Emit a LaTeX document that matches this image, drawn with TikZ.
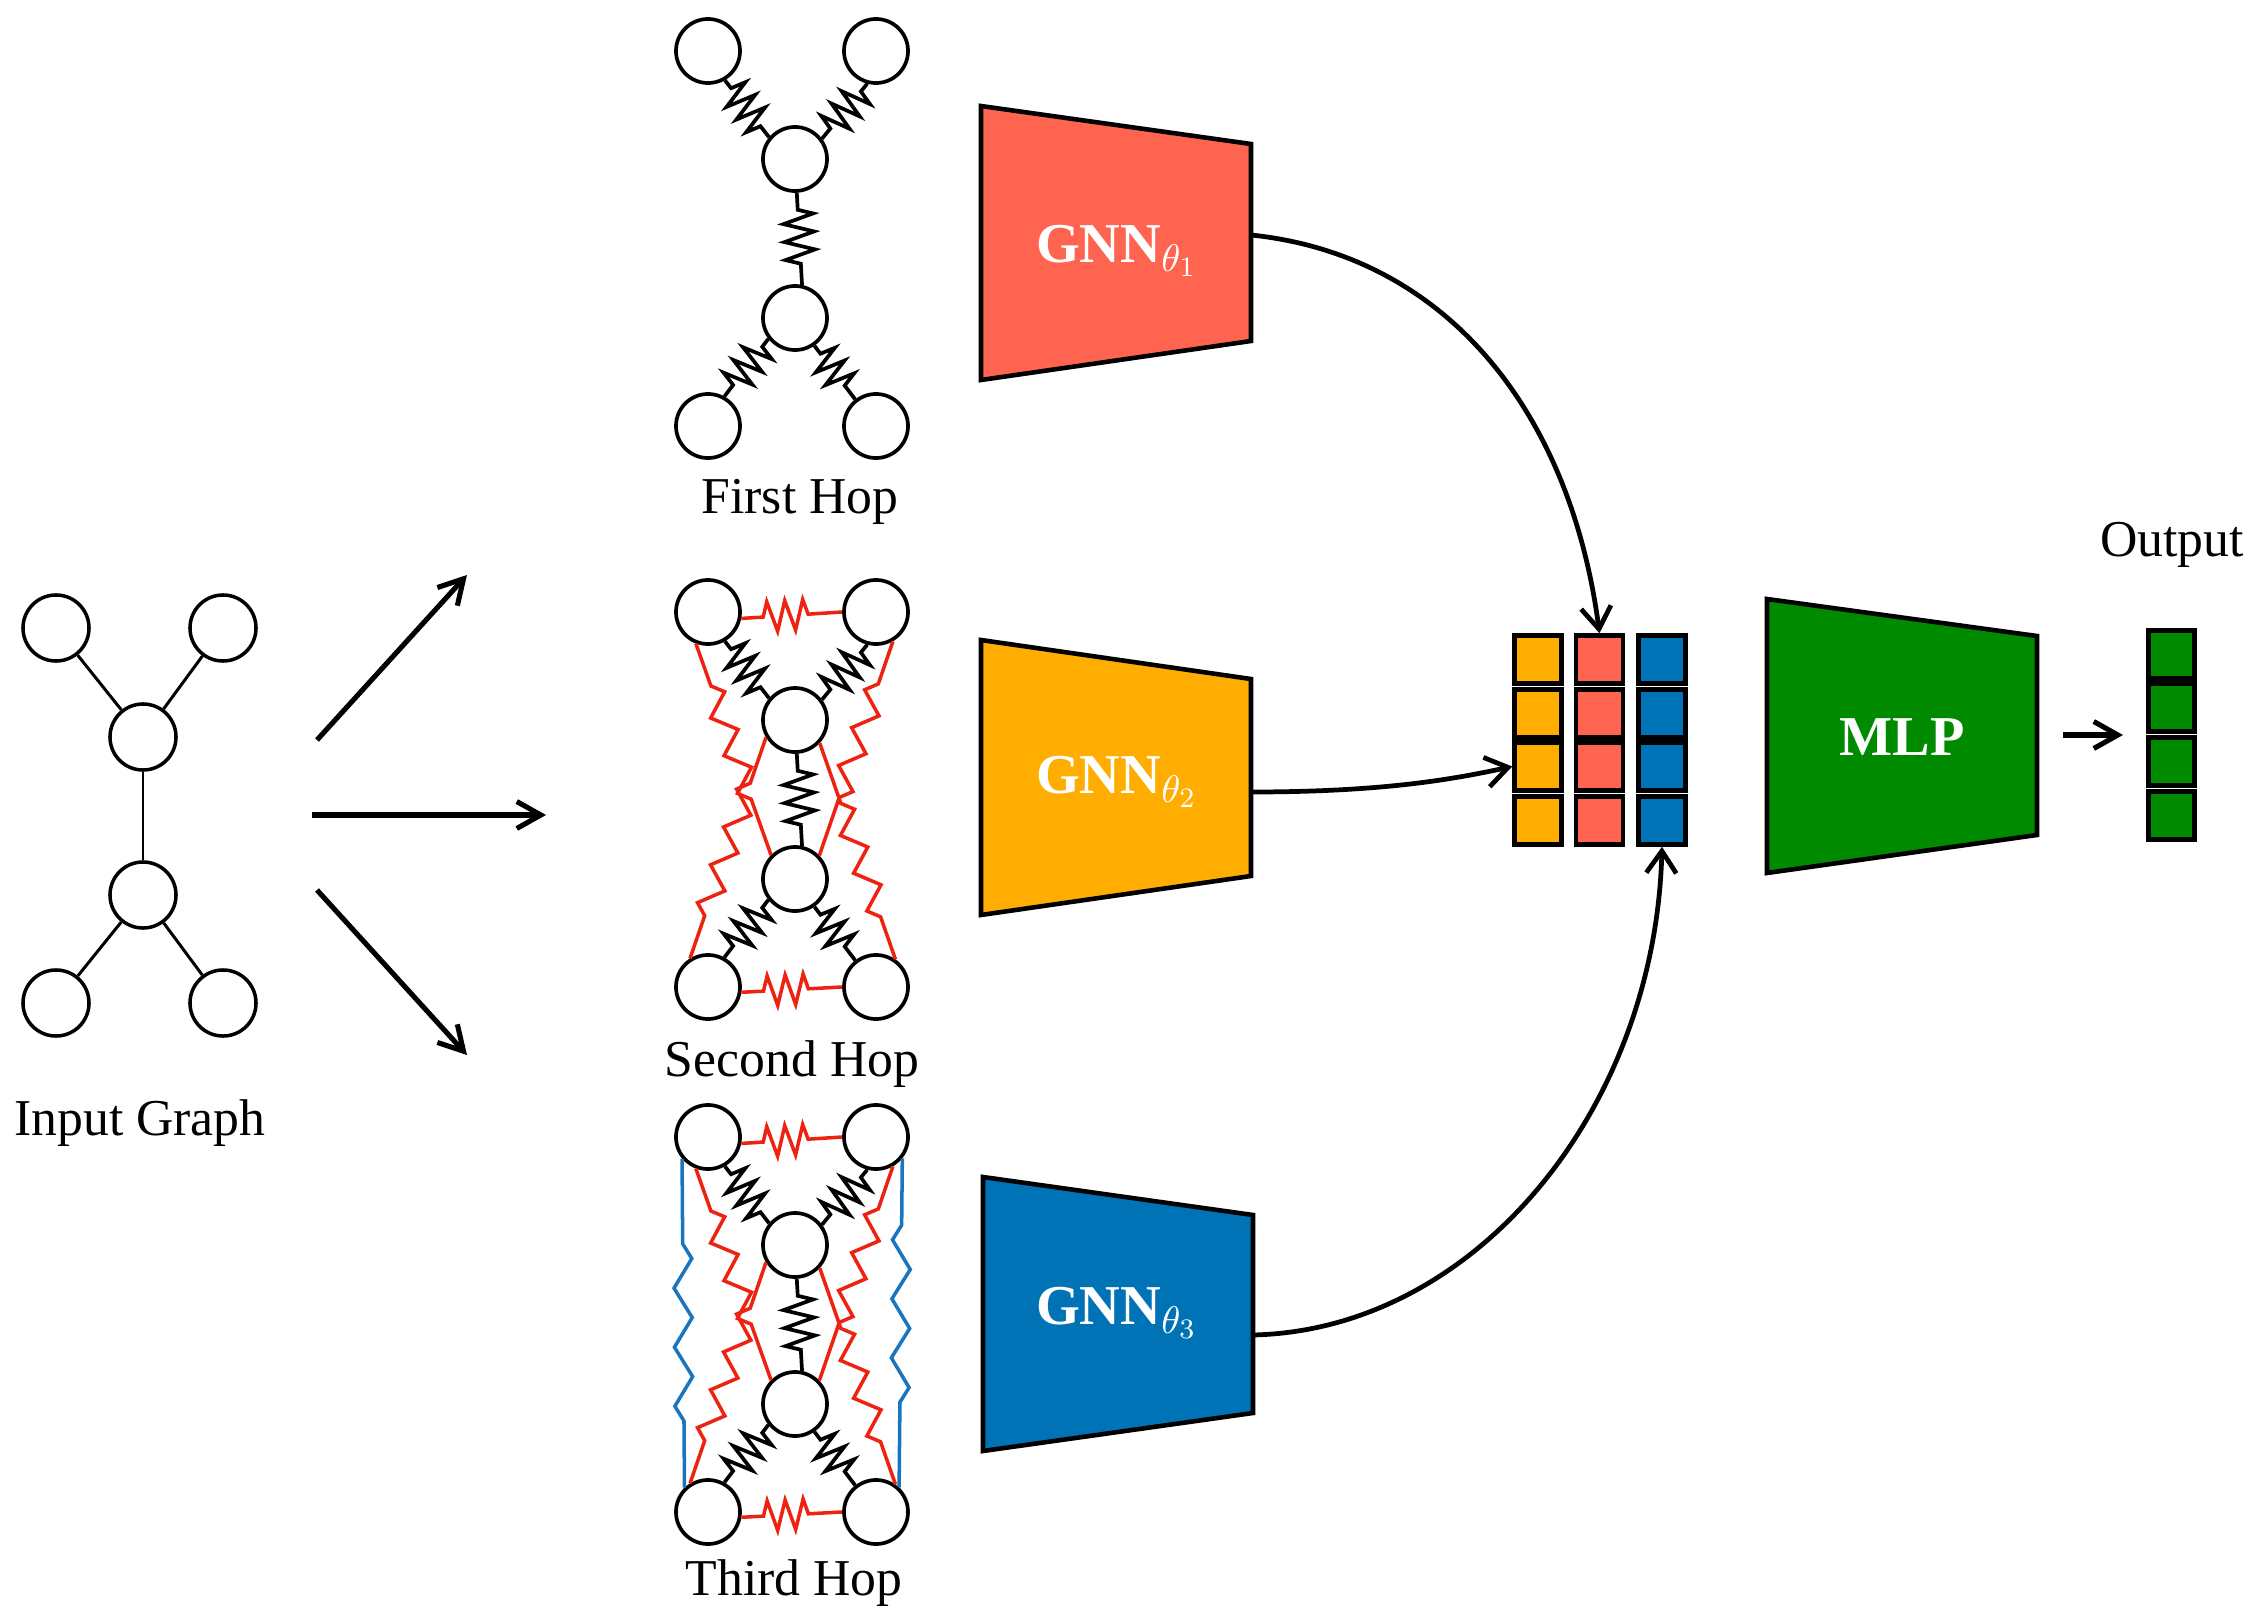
\documentclass[tikz,border=0pt]{standalone}
\usepackage{fontspec}
\setmainfont{Liberation Serif}
\usetikzlibrary{decorations.pathmorphing,arrows.meta}
\definecolor{gnnred}{HTML}{FF6450}
\definecolor{gnnorange}{HTML}{FFAD00}
\definecolor{gnnblue}{HTML}{0073B7}
\definecolor{mlpgreen}{HTML}{008A00}
\definecolor{sprred}{HTML}{EE2211}
\definecolor{sprblue}{HTML}{1A75BC}

\newcommand{\hopnodes}[5]{%
  \node[gnode] (#1tl) at (708,#2) {};
  \node[gnode] (#1tr) at (876,#2) {};
  \node[gnode] (#1mu) at (795,#3) {};
  \node[gnode] (#1ml) at (795,#4) {};
  \node[gnode] (#1bl) at (708,#5) {};
  \node[gnode] (#1br) at (876,#5) {};
  \draw[bspd] (#1tl.300) -- (#1mu.140);
  \draw[bspd] (#1tr.255) -- (#1mu.37);
  \draw[bspv] (#1mu.273) -- (#1ml.78);
  \draw[bspd] (#1ml.218) -- (#1bl.61);
  \draw[bspd] (#1ml.305) -- (#1br.128);
}
\newcommand{\redsprings}[1]{%
  \draw[rsph] (#1tl.349) -- (#1tr.180);
  \draw[rsph] (#1bl.351) -- (#1br.180);
  \draw[rspl] (#1tl.249) -- (#1ml.135);
  \draw[rspl, decoration={mirror}] (#1tr.300) -- (#1ml.44);
  \draw[rspl] (#1bl.122) -- (#1mu.211);
  \draw[rspl] (#1br.55) -- (#1mu.317);
}

\begin{document}
\begin{tikzpicture}[x=0.01cm, y=-0.01cm,
  gnode/.style={circle, draw, line width=1.05pt, minimum size=0.64cm, inner sep=0pt},
  inode/.style={circle, draw, line width=1pt, minimum size=0.66cm, inner sep=0pt},
  iedge/.style={line width=0.85pt},
  bspd/.style={line width=1.05pt, decorate, decoration={zigzag, amplitude=0.15cm, segment length=0.16cm, pre length=0.1cm, post length=0.1cm}},
  bspv/.style={line width=1.05pt, decorate, decoration={zigzag, amplitude=0.15cm, segment length=0.18cm, pre length=0.17cm, post length=0.15cm}},
  rsph/.style={sprred, line width=1pt, decorate, decoration={zigzag, amplitude=0.15cm, segment length=0.18cm, pre length=0.22cm, post length=0.27cm}},
  rspl/.style={sprred, line width=1pt, decorate, decoration={zigzag, amplitude=0.11cm, segment length=0.4cm, pre length=0.45cm, post length=0.45cm}},
  bsp/.style={sprblue, line width=1pt, decorate, decoration={zigzag, amplitude=0.09cm, segment length=0.59cm, pre length=0.85cm, post length=0.65cm}},
  trap/.style={draw, line width=1.3pt, line join=miter},
  cell/.style={draw, line width=1.3pt, minimum width=0.47cm, minimum height=0.48cm, inner sep=0pt},
  ocell/.style={cell, fill=mlpgreen, minimum width=0.46cm},
  arr/.style={line width=1.35pt, -{Straight Barb[length=0.22cm, width=0.3cm]}},
  iarr/.style={line width=1.45pt, -{Straight Barb[length=0.24cm, width=0.27cm]}},
  lbl/.style={font=\fontsize{14.7}{17}\selectfont, inner sep=0pt},
  blk/.style={font=\fontsize{16}{19}\selectfont, text=white, inner sep=0pt}
]
\useasboundingbox (0,0) rectangle (2265,1621);

% ---------- input graph ----------
\node[inode] (i1) at (56,628) {};
\node[inode] (i2) at (223,628) {};
\node[inode] (i3) at (143,737) {};
\node[inode] (i4) at (143,895) {};
\node[inode] (i5) at (56,1003) {};
\node[inode] (i6) at (223,1003) {};
\draw[iedge] (i1) -- (i3);
\draw[iedge] (i2) -- (i3);
\draw[iedge] (i3) -- (i4);
\draw[iedge] (i4) -- (i5);
\draw[iedge] (i4) -- (i6);
\node[lbl, anchor=base] (t0) at (140,1135) {Input Graph};

% ---------- splitting arrows ----------
\coordinate (a0s) at (317,740);
\coordinate (a0e) at (467,575);
\coordinate (a1s) at (312,815);
\coordinate (a1e) at (546,815);
\coordinate (a2s) at (317,890);
\coordinate (a2e) at (467,1055);
\draw[iarr] (a0s) -- (a0e);
\draw[iarr] (a1s) -- (a1e);
\draw[iarr] (a2s) -- (a2e);

% ---------- hop graphs ----------
\hopnodes{p1}{51}{159}{318}{426}
\node[lbl, anchor=base] (t1) at (800,513) {First Hop};

\hopnodes{p2}{612}{720}{879}{987}
\redsprings{p2}
\node[lbl, anchor=base] (t2) at (792,1076) {Second Hop};

\hopnodes{p3}{1137}{1245}{1404}{1512}
\redsprings{p3}
\draw[bsp] (p3tl.220) -- (p3bl.134);
\draw[bsp, decoration={mirror}] (p3br.47.5) -- (p3tr.321);
\node[lbl, anchor=base] (t3) at (794,1595) {Third Hop};

% ---------- GNN blocks ----------
\draw[trap, fill=gnnred] (981,106) -- (1251,144) -- (1251,341) -- (981,380) -- cycle;
\node[blk, anchor=base] (g1) at (1117,262) {\textbf{GNN}$_{\theta_1}$};
\coordinate (g1o) at (1251,235);

\draw[trap, fill=gnnorange] (981,640) -- (1251,679) -- (1251,876) -- (981,915) -- cycle;
\node[blk, anchor=base] (g2) at (1117,793) {\textbf{GNN}$_{\theta_2}$};
\coordinate (g2o) at (1251,792);

\draw[trap, fill=gnnblue] (983,1177) -- (1253,1215) -- (1253,1413) -- (983,1451) -- cycle;
\node[blk, anchor=base] (g3) at (1117,1324) {\textbf{GNN}$_{\theta_3}$};
\coordinate (g3o) at (1253,1335);

% ---------- concatenated embeddings ----------
\foreach \n/\yy in {1/659.5, 2/713.5, 3/766.5, 4/820.5} {
  \node[cell, fill=gnnorange] (o\n) at (1538,\yy) {};
  \node[cell, fill=gnnred] (r\n) at (1599.5,\yy) {};
  \node[cell, fill=gnnblue] (b\n) at (1662,\yy) {};
}

\draw[arr] (g1o) .. controls (1445,255) and (1570,410) .. (r1.north);
\draw[arr] (g2o) .. controls (1380,792) and (1450,780) .. (o3.west);
\draw[arr] (g3o) .. controls (1475,1330) and (1655,1110) .. (b4.south);

% ---------- MLP ----------
\draw[trap, fill=mlpgreen] (1767,599) -- (2037,636) -- (2037,835) -- (1767,873) -- cycle;
\node[blk, anchor=base] (mlp) at (1902,755) {\textbf{MLP}};
\coordinate (m0) at (2063,735);
\coordinate (m1) at (2123,735);
\draw[iarr] (m0) -- (m1);

% ---------- output ----------
\foreach \n/\yy in {1/654.5, 2/707.5, 3/761.5, 4/815.5} {
  \node[ocell] (y\n) at (2171.5,\yy) {};
}
\node[lbl, anchor=base] (t4) at (2172,556) {Output};
\end{tikzpicture}
\end{document}
